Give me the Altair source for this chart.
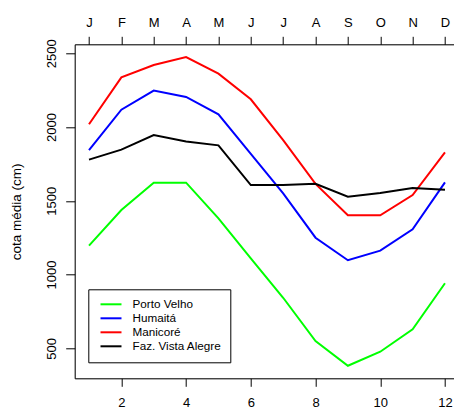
import altair as alt
import pandas as pd

months = [1, 2, 3, 4, 5, 6, 7, 8, 9, 10, 11, 12]
month_letters = ["J", "F", "M", "A", "M", "J", "J", "A", "S", "O", "N", "D"]
series_names = ["Porto Velho", "Humaitá", "Manicoré", "Faz. Vista Alegre"]
series_colors = ["#00FF00", "#0000FF", "#FF0000", "#000000"]

porto_velho = [1196, 1438, 1623, 1623, 1381, 1110, 843, 550, 382, 477, 629, 941]
humaita = [1844, 2118, 2247, 2204, 2086, 1819, 1551, 1250, 1097, 1162, 1307, 1625]
manicore = [2019, 2337, 2421, 2475, 2362, 2188, 1912, 1615, 1402, 1402, 1539, 1829]
vista_alegre = [1779, 1847, 1946, 1902, 1876, 1607, 1607, 1616, 1528, 1553, 1587, 1575]

values = [porto_velho, humaita, manicore, vista_alegre]
rows = []
for name, vals in zip(series_names, values):
    for m, v in zip(months, vals):
        rows.append({"month": m, "cota": v, "serie": name})
df = pd.DataFrame(rows)
df_months = pd.DataFrame({"month": months})

FONT = "Liberation Sans"
xscale = alt.Scale(domain=[0.558, 12.279], nice=False, zero=False)
yscale = alt.Scale(domain=[297, 2561], nice=False, zero=False)

letters_js = "[" + ",".join("'" + l + "'" for l in month_letters) + "]"

lines = alt.Chart(df).mark_line(strokeWidth=2, clip=True).encode(
    x=alt.X("month:Q", scale=xscale,
            axis=alt.Axis(orient="bottom", values=[2, 4, 6, 8, 10, 12], title=None,
                          grid=False, domainColor="black", tickColor="black",
                          tickSize=8, labelPadding=10, labelFontSize=13,
                          labelFont=FONT, labelColor="black", labelFlush=False)),
    y=alt.Y("cota:Q", scale=yscale,
            axis=alt.Axis(orient="left", values=[500, 1000, 1500, 2000, 2500],
                          format="d",
                          title="cota média (cm)", grid=False, domainColor="black",
                          tickColor="black", tickSize=9, labelAngle=270,
                          labelAlign="center", labelBaseline="bottom",
                          labelPadding=7, labelFontSize=13, labelFont=FONT,
                          labelColor="black", labelFlush=False,
                          titleFont=FONT, titleFontSize=13.5, titleFontWeight="normal",
                          titleColor="black", titleAngle=270, titleX=-58, titleY=167,
                          titleAlign="center", titleBaseline="middle")),
    color=alt.Color("serie:N", scale=alt.Scale(domain=series_names, range=series_colors),
                    sort=series_names,
                    legend=alt.Legend(title=None, orient="none", legendX=13.6, legendY=245,
                                      symbolType="M-2,0H2", symbolSize=110,
                                      symbolStrokeWidth=2, labelFont=FONT,
                                      labelFontSize=11.7, labelColor="black",
                                      strokeColor="black", fillColor="white",
                                      padding=8.5, symbolOffset=7.7, rowPadding=0,
                                      labelOffset=15, cornerRadius=0)),
)

top_axis = alt.Chart(df_months).mark_point(opacity=0).encode(
    x=alt.X("month:Q", scale=xscale,
            axis=alt.Axis(orient="top", values=months, title=None, grid=False,
                          domainColor="black", tickColor="black", tickSize=8,
                          labelPadding=7, labelFontSize=13, labelFont=FONT,
                          labelColor="black", labelFlush=False,
                          labelExpr=letters_js + "[datum.value - 1]")),
    y=alt.value(0),
)

chart = alt.layer(lines, top_axis).resolve_axis(x="independent").properties(
    width=379.3, height=334,
    autosize=alt.AutoSizeParams(type="none"),
    padding={"left": 74.7, "top": 44.3, "right": 0, "bottom": 31.7},
).configure_view(stroke=None).configure(background="white")

chart.save("out.html", embed_options={"renderer": "svg", "actions": False})
